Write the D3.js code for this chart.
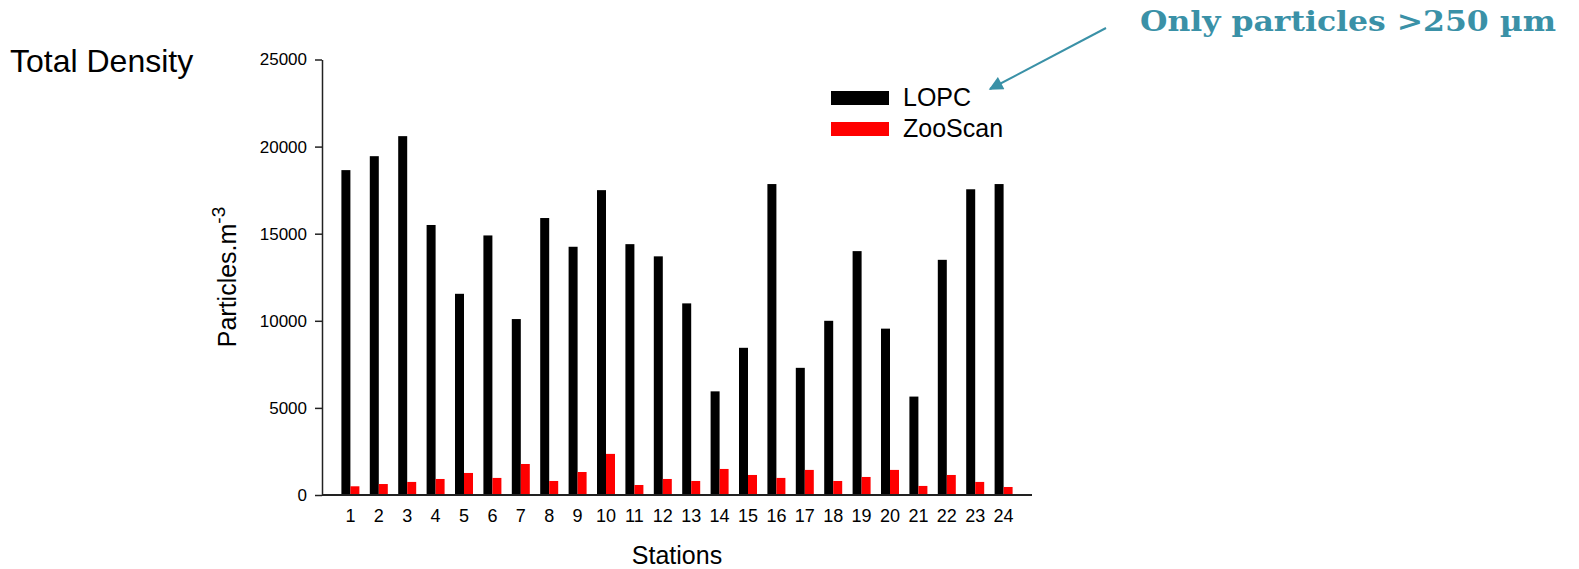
<!DOCTYPE html>
<html lang="en">
<head>
    <meta charset="utf-8">
    <title>Total Density</title>
    <script type="text/javascript" src="https://d3js.org/d3.v7.min.js"></script>
    <style>
        body { margin: 0; background: #fff; }
        text { font-family: "Liberation Sans", Arial, sans-serif; fill: #000; }
    </style>
</head>
<body>
    <script type="text/javascript">

        // Chart data
        var stations = ["1","2","3","4","5","6","7","8","9","10","11","12",
                        "13","14","15","16","17","18","19","20","21","22","23","24"];
        var seriesNames = ["LOPC", "ZooScan"];
        var lopc = [18650, 19450, 20600, 15500, 11550, 14900, 10100, 15900, 14250, 17500, 14400, 13700,
                    11000, 5950, 8450, 17850, 7300, 10000, 14000, 9550, 5650, 13500, 17550, 17850];
        var zooscan = [500, 630, 750, 920, 1265, 980, 1780, 805, 1320, 2360, 575, 920,
                       805, 1495, 1150, 980, 1440, 805, 1035, 1440, 520, 1150, 750, 460];
        var yTicks = [0, 5000, 10000, 15000, 20000, 25000];
        var colors = ["#000000", "#ff0000"];

        var width = 1579, height = 569;

        var svg = d3.select("body").append("svg")
            .attr("width", width)
            .attr("height", height);

        // Scales
        var y = d3.scaleLinear()
            .domain([0, 25000])
            .range([495, 59.5]);

        var x0 = d3.scaleBand()
            .domain(stations)
            .range([336.2, 1017.8]);

        var x1 = d3.scaleBand()
            .domain(seriesNames)
            .range([0, x0.bandwidth()])
            .paddingInner(0)
            .paddingOuter(0.578);

        var color = d3.scaleOrdinal().domain(seriesNames).range(colors);

        var rows = stations.map(function(s, i) {
            return { station: s, values: [
                { key: "LOPC", value: lopc[i] },
                { key: "ZooScan", value: zooscan[i] }
            ]};
        });

        // Bars
        var groups = svg.append("g").selectAll("g")
            .data(rows)
            .enter()
            .append("g")
            .attr("transform", function(d) { return "translate(" + x0(d.station) + ",0)"; });

        groups.selectAll("rect")
            .data(function(d) { return d.values; })
            .enter()
            .append("rect")
            .attr("x", function(d) { return x1(d.key); })
            .attr("width", x1.bandwidth())
            .attr("y", function(d) { return y(d.value); })
            .attr("height", function(d) { return y(0) - y(d.value); })
            .attr("fill", function(d) { return color(d.key); });

        // Y axis
        var yAxis = svg.append("g")
            .attr("transform", "translate(322,0)")
            .call(d3.axisLeft(y).tickValues(yTicks).tickFormat(d3.format("d"))
                .tickSize(7).tickSizeOuter(0).tickPadding(8));
        yAxis.select(".domain").attr("stroke", "#222").attr("stroke-width", 1.5);
        yAxis.selectAll(".tick line").attr("stroke", "#222").attr("stroke-width", 1.5);
        yAxis.selectAll(".tick text")
            .style("font-family", "'Liberation Sans', Arial, sans-serif")
            .style("font-size", "17px")
            .attr("fill", "#000");

        // X axis (labels only, plus the baseline)
        var xAxis = svg.append("g")
            .attr("transform", "translate(0," + y(0) + ")")
            .call(d3.axisBottom(x0).tickSize(0).tickPadding(14));
        xAxis.select(".domain").remove();
        xAxis.selectAll(".tick text")
            .style("font-family", "'Liberation Sans', Arial, sans-serif")
            .style("font-size", "18px")
            .attr("fill", "#000");

        svg.append("line")
            .attr("x1", 322).attr("x2", 1032)
            .attr("y1", y(0)).attr("y2", y(0))
            .attr("stroke", "#222")
            .attr("stroke-width", 2);

        // Titles
        svg.append("text")
            .attr("x", 10).attr("y", 72)
            .style("font-size", "32px")
            .text("Total Density");

        svg.append("text")
            .attr("x", 677).attr("y", 564)
            .attr("text-anchor", "middle")
            .style("font-size", "25px")
            .text("Stations");

        var yLabel = svg.append("text")
            .attr("transform", "translate(236,277) rotate(-90)")
            .attr("text-anchor", "middle")
            .style("font-size", "25px");
        yLabel.append("tspan").text("Particles.m");
        yLabel.append("tspan").attr("dy", -11).style("font-size", "19px").text("-3");

        // Legend
        var legend = svg.append("g").selectAll("g")
            .data(seriesNames)
            .enter()
            .append("g")
            .attr("transform", function(d, i) { return "translate(831," + (91 + i * 31) + ")"; });
        legend.append("rect")
            .attr("width", 58).attr("height", 14)
            .attr("fill", function(d) { return color(d); });
        legend.append("text")
            .attr("x", 72).attr("y", 15)
            .style("font-size", "25px")
            .text(function(d) { return d; });

        // Annotation with arrow
        var teal = "#3a91a7";
        svg.append("defs").append("marker")
            .attr("id", "arrowhead")
            .attr("viewBox", "0 0 10 10")
            .attr("refX", 9).attr("refY", 5)
            .attr("markerWidth", 8).attr("markerHeight", 7)
            .attr("markerUnits", "strokeWidth")
            .attr("orient", "auto")
            .append("path")
            .attr("d", "M0,0 L10,5 L0,10 Z")
            .attr("fill", teal);

        svg.append("line")
            .attr("x1", 1106).attr("y1", 28)
            .attr("x2", 990).attr("y2", 89)
            .attr("stroke", teal)
            .attr("stroke-width", 2)
            .attr("marker-end", "url(#arrowhead)");

        svg.append("text")
            .attr("x", 1140).attr("y", 31)
            .attr("textLength", 416)
            .attr("lengthAdjust", "spacingAndGlyphs")
            .style("font-family", "'DejaVu Serif', serif")
            .style("font-weight", "bold")
            .style("font-size", "28px")
            .style("fill", teal)
            .text("Only particles >250 \u00b5m");

    </script>
</body>
</html>
